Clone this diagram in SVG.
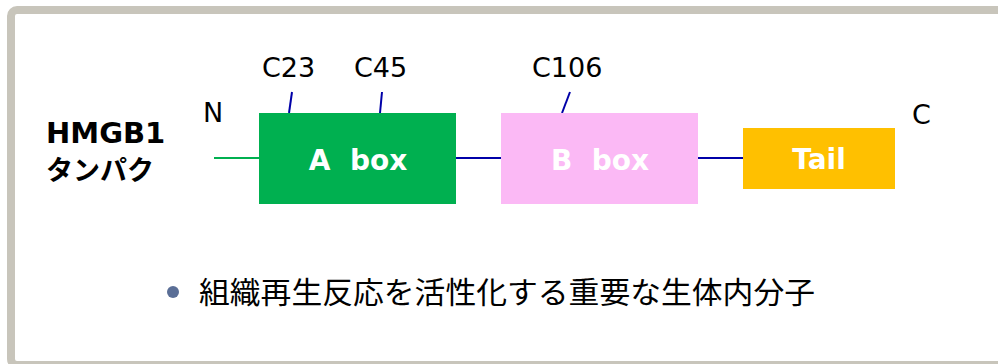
<svg xmlns="http://www.w3.org/2000/svg" width="998" height="364" viewBox="0 0 998 364">
<style>
.lbl{font-family:"DejaVu Sans","Noto Sans CJK JP",sans-serif;font-size:27px;fill:#000}
.bx{font-family:"DejaVu Sans","Noto Sans CJK JP",sans-serif;font-size:28px;font-weight:bold;fill:#fff;text-anchor:middle}
.ttl{font-family:"DejaVu Sans","Noto Sans CJK JP",sans-serif;font-weight:bold;fill:#000}
.ln{stroke:#0000A8;stroke-width:2;fill:none}
</style>
<rect x="11" y="10" width="1000" height="355" rx="6" fill="#fff" stroke="#C8C5BB" stroke-width="8"/>
<g id="title">
<text class="ttl" x="46" y="143" font-size="29">HMGB1</text>
<text class="ttl" x="46" y="180" font-size="27">タンパク</text>
</g>
<g id="connectors">
<line x1="214" y1="158" x2="259" y2="158" stroke="#00B050" stroke-width="2"/>
<line class="ln" x1="456" y1="158" x2="501" y2="158"/>
<line class="ln" x1="698" y1="158" x2="743" y2="158"/>
<line class="ln" x1="292" y1="92" x2="289" y2="113"/>
<line class="ln" x1="382" y1="92" x2="380" y2="113"/>
<line class="ln" x1="570" y1="92" x2="562" y2="113"/>
</g>
<g id="N"><text class="lbl" x="203" y="122">N</text></g>
<g id="C"><text class="lbl" x="912" y="124">C</text></g>
<g id="C23"><text class="lbl" x="262" y="77">C23</text></g>
<g id="C45"><text class="lbl" x="354" y="77">C45</text></g>
<g id="C106"><text class="lbl" x="532" y="77">C106</text></g>
<g id="abox">
<rect x="259" y="113" width="197" height="91" fill="#00B050"/>
<text class="bx" x="358" y="170" xml:space="preserve">A  box</text>
</g>
<g id="bbox">
<rect x="501" y="113" width="197" height="91" fill="#FBB9F5"/>
<text class="bx" x="600" y="170" xml:space="preserve">B  box</text>
</g>
<g id="tail">
<rect x="743" y="128" width="152" height="61" fill="#FFC000"/>
<text class="bx" x="819" y="169">Tail</text>
</g>
<g id="bullet">
<circle cx="173" cy="292" r="6" fill="#5A6E96"/>
<text x="199" y="303" font-family="'Noto Sans CJK JP',sans-serif" font-size="30" fill="#000" textLength="616" lengthAdjust="spacingAndGlyphs">組織再生反応を活性化する重要な生体内分子</text>
</g>
</svg>
